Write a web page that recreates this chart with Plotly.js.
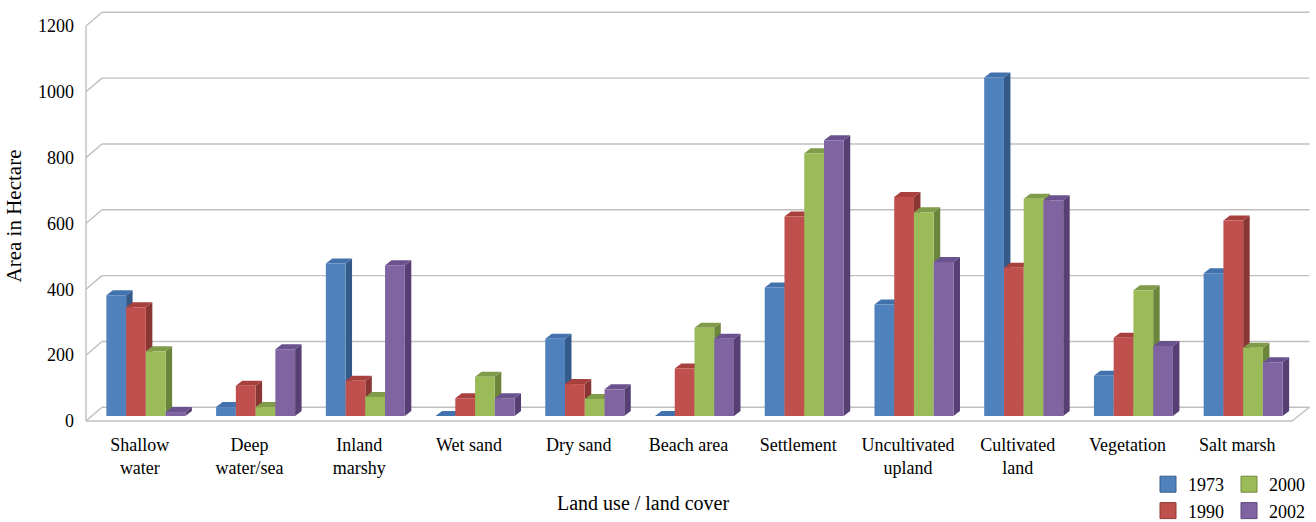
<!DOCTYPE html>
<html>
<head>
<meta charset="utf-8">
<script src="https://cdn.plot.ly/plotly-3.0.1.min.js"></script>
<style>
  html, body { margin: 0; padding: 0; background: #ffffff; }
  #chart { width: 1316px; height: 522px; }
</style>
</head>
<body>
<div id="chart"></div>
<script>
// Land use / land cover area (hectare) per class and survey year
const categories = ['Shallow<br>water', 'Deep<br>water/sea', 'Inland<br>marshy', 'Wet sand', 'Dry sand',
  'Beach area', 'Settlement', 'Uncultivated<br>upland', 'Cultivated<br>land', 'Vegetation', 'Salt marsh'];
const years = ['1973', '1990', '2000', '2002'];
const area1973 = [367, 27, 463, 0, 235, 0, 390, 339, 1028, 122, 434];
const area1990 = [330, 92, 107, 54, 97, 144, 606, 665, 450, 238, 594];
const area2000 = [197, 27, 58, 119, 52, 268, 798, 619, 660, 382, 207];
const area2002 = [12, 203, 458, 54, 81, 235, 838, 468, 655, 213, 163];
const yTicks = [0, 200, 400, 600, 800, 1000, 1200];

const series = [area1973, area1990, area2000, area2002];
const faceColors = [
  { front: '#4F81BD', top: '#4272AD', side: '#345A89', edge: '#385D8A' },
  { front: '#C0504D', top: '#A8413E', side: '#8A3634', edge: '#8C3836' },
  { front: '#9BBB59', top: '#809B4A', side: '#6B863A', edge: '#71893F' },
  { front: '#8064A2', top: '#6A528E', side: '#564073', edge: '#5C4776' }
];

// ---- page geometry (pixels) ----
const W = 1316, H = 522;
const M = { l: 84, r: 4, t: 8, b: 98, autoexpand: false };
const plotW = W - M.l - M.r;
const plotH = H - M.t - M.b;
const CAT_PX = 109.73;     // pitch between category groups
const CAT0_PX = 145.86;    // centre of the first group on the column plane
const BASE_PX = 416;       // column base line
const UNIT_PX = 0.3292;    // pixels per hectare
const px2x = p => (p - CAT0_PX) / CAT_PX;
const px2y = p => (BASE_PX - p) / UNIT_PX;
const xRange = [px2x(M.l), px2x(W - M.r)];
const yRange = [px2y(H - M.b), px2y(M.t)];

// depth of the floor / back wall, and depth of each column
const FLOOR_FRONT_Y = 421, WALL_Y = 407.3;
const AXIS_X = 86, WALL_X = 102, WALL_RIGHT_X = 1309.5, FLOOR_RIGHT_X = 1292;
const DX = 6.5 / CAT_PX, DY = 5 / UNIT_PX;
const BAR_GAP = 0.28;
const barW = (1 - BAR_GAP) / series.length;

const gridColor = '#BFBFBF';
const shapes = [];
const seg = (x0, y0, x1, y1) => ({
  type: 'line', xref: 'x', yref: 'y', layer: 'below',
  x0: x0, y0: y0, x1: x1, y1: y1,
  line: { color: gridColor, width: 1.4 }
});

// back wall gridlines and the left-wall diagonals
yTicks.forEach(v => {
  const yf = px2y(FLOOR_FRONT_Y) + v, yb = px2y(WALL_Y) + v;
  shapes.push(seg(px2x(WALL_X), yb, px2x(WALL_RIGHT_X), yb));
  shapes.push(seg(px2x(AXIS_X), yf, px2x(WALL_X), yb));
});
// front value axis, floor front edge and right edge
shapes.push(seg(px2x(AXIS_X), px2y(FLOOR_FRONT_Y), px2x(AXIS_X), px2y(FLOOR_FRONT_Y) + 1200));
shapes.push(seg(px2x(AXIS_X), px2y(FLOOR_FRONT_Y), px2x(FLOOR_RIGHT_X), px2y(FLOOR_FRONT_Y)));
shapes.push(seg(px2x(FLOOR_RIGHT_X), px2y(FLOOR_FRONT_Y), px2x(WALL_RIGHT_X), px2y(WALL_Y)));

// side and top faces of each column
const poly = (pts, color) => ({
  type: 'path', xref: 'x', yref: 'y', layer: 'below',
  path: 'M' + pts.map(p => p[0].toFixed(4) + ',' + p[1].toFixed(3)).join('L') + 'Z',
  fillcolor: color, line: { width: 0 }
});
const sides = [], tops = [];
series.forEach((vals, j) => {
  vals.forEach((v, i) => {
    const xl = i - (1 - BAR_GAP) / 2 + barW * j;
    const xr = xl + barW;
    sides.push(poly([[xr, 0], [xr, v], [xr + DX, v + DY], [xr + DX, DY]], faceColors[j].side));
    tops.push(poly([[xl, v], [xr, v], [xr + DX, v + DY], [xl + DX, v + DY]], faceColors[j].top));
  });
});
shapes.push(...sides, ...tops);

const xIdx = categories.map((c, i) => i);
const font = 'Liberation Serif, Times New Roman, serif';

const traces = series.map((vals, j) => ({
  type: 'bar', name: years[j], x: xIdx, y: vals,
  marker: { color: faceColors[j].front, line: { width: 0 } },
  showlegend: false, hoverinfo: 'x+y+name'
}));
// legend keys, two columns of two
years.forEach((yr, j) => {
  traces.push({
    type: 'scatter', mode: 'markers', x: [null], y: [null], name: yr,
    legend: j < 2 ? 'legend' : 'legend2',
    marker: { symbol: 'square', size: 16, color: faceColors[j].front,
              line: { color: faceColors[j].edge, width: 1 } },
    hoverinfo: 'skip'
  });
});

const legendBase = {
  xref: 'container', yref: 'container', xanchor: 'left', yanchor: 'top',
  orientation: 'v', bgcolor: 'rgba(0,0,0,0)', borderwidth: 0,
  font: { family: font, size: 18, color: '#000' }, itemsizing: 'trace',
  tracegroupgap: 0
};

const layout = {
  width: W, height: H,
  margin: M,
  paper_bgcolor: '#ffffff', plot_bgcolor: '#ffffff',
  font: { family: font, size: 18, color: '#000' },
  barmode: 'group', bargap: BAR_GAP, bargroupgap: 0,
  xaxis: {
    type: 'linear', range: xRange, tickmode: 'array', tickvals: xIdx, ticktext: categories,
    showgrid: false, zeroline: false, showline: false, ticks: '',
    ticklabelshift: -6, ticklabelstandoff: 8,
    tickfont: { family: font, size: 18, color: '#000' }, fixedrange: true
  },
  yaxis: {
    range: yRange, tickmode: 'array', tickvals: yTicks, ticktext: yTicks.map(String),
    showgrid: false, zeroline: false, showline: false, ticks: '',
    ticklabelshift: 5, ticklabelstandoff: 9,
    tickfont: { family: font, size: 18, color: '#000' },
    title: { text: 'Area in Hectare', font: { family: font, size: 21, color: '#000' }, standoff: 10 },
    fixedrange: true
  },
  shapes: shapes,
  annotations: [{
    text: 'Land use / land cover', xref: 'paper', yref: 'paper',
    x: (643 - M.l) / plotW, y: (H - M.b - 503) / plotH, xanchor: 'center', yanchor: 'middle',
    showarrow: false, font: { family: font, size: 20, color: '#000' }
  }],
  legend: Object.assign({}, legendBase, { x: 1148 / W, y: 1 - 466 / H }),
  legend2: Object.assign({}, legendBase, { x: 1229 / W, y: 1 - 466 / H }),
  showlegend: true
};

Plotly.newPlot('chart', traces, layout, { displayModeBar: false, staticPlot: true });
</script>
</body>
</html>
